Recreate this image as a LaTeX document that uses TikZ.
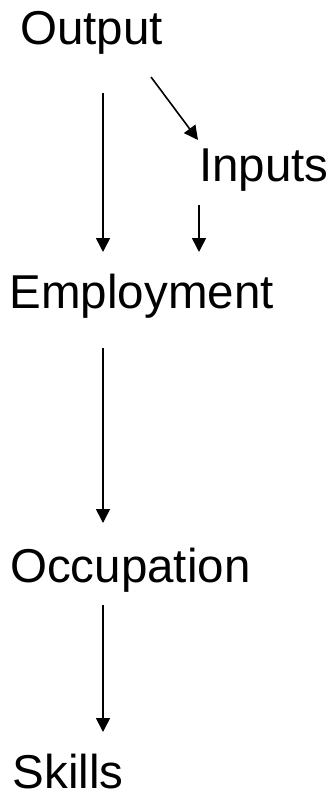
\documentclass[tikz,border=0pt]{standalone}
\usepackage{fontspec}
\setmainfont{Liberation Sans}
\usetikzlibrary{arrows.meta}

\begin{document}
\begin{tikzpicture}[x=1pt,y=-1pt,
  flow/.style={line width=1.6pt, -{Triangle[width=14pt,length=14pt]}}]
 \useasboundingbox (0,0) rectangle (335,794);
 \begin{scope}[every node/.style={anchor=base west, inner sep=0pt,
                                  font=\fontsize{47.5}{57}\selectfont}]
  \node (out) at (20,45) {Output};
  \node (inp) at (199,182) {Inputs};
  \node (emp) at (9.5,308) {Employment};
  \node (occ) at (10,582) {Occupation};
  \node (skl) at (12.5,788) {Skills};
 \end{scope}
  \path [flow] ([shift={(83,48)}]out.base west) edge ([shift={(93.5,-56)}]emp.base west);
  \path [flow] ([shift={(131,32)}]out.base west) edge ([shift={(-1,-42)}]inp.base west);
  \path [flow] ([shift={(0,23)}]inp.base west) edge ([shift={(189.5,-56)}]emp.base west);
  \path [flow] ([shift={(93.5,40)}]emp.base west) edge ([shift={(93,-59)}]occ.base west);
  \path [flow] ([shift={(93,23)}]occ.base west) edge ([shift={(90.5,-56)}]skl.base west);
\end{tikzpicture}
\end{document}
